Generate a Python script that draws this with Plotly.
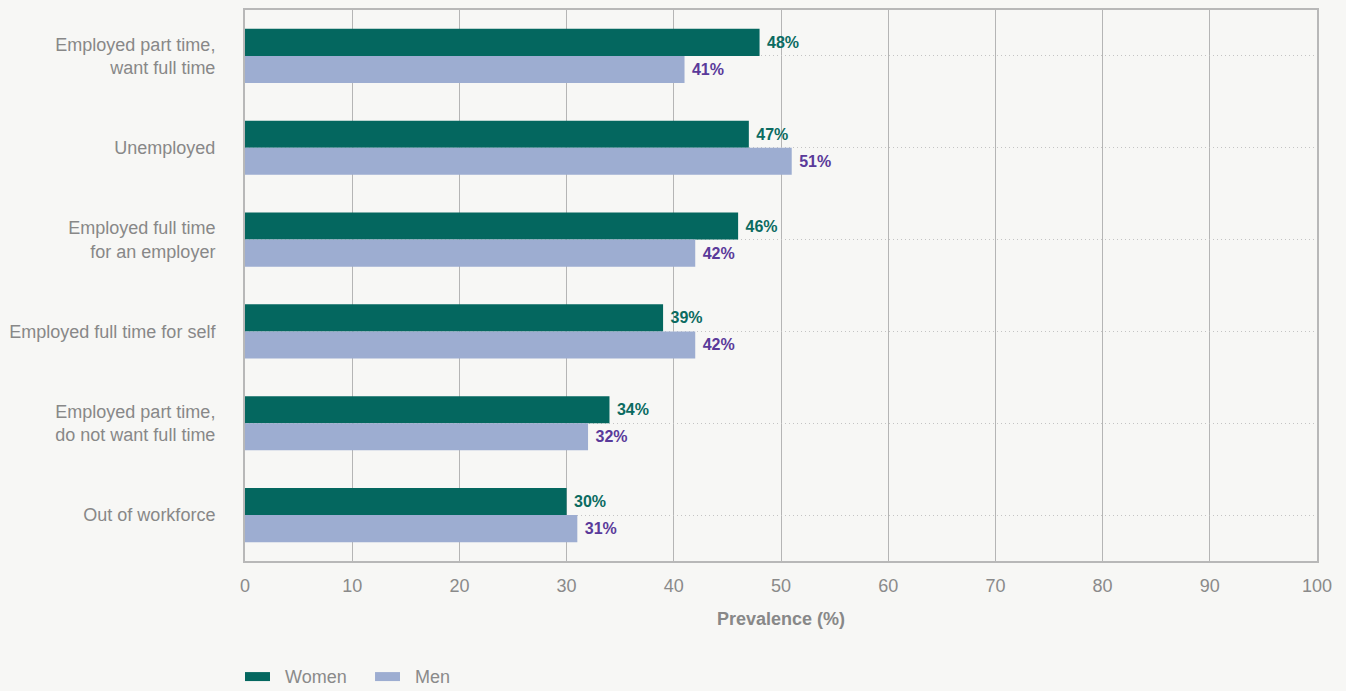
import plotly.graph_objects as go

categories = [
    "Employed part time,<br>want full time",
    "Unemployed",
    "Employed full time<br>for an employer",
    "Employed full time for self",
    "Employed part time,<br>do not want full time",
    "Out of workforce",
]
women = [48, 47, 46, 39, 34, 30]
men = [41, 51, 42, 42, 32, 31]
x_ticks = [0, 10, 20, 30, 40, 50, 60, 70, 80, 90, 100]
series_names = ["Women", "Men"]
series_colors = ["#04675f", "#9dadd1"]
label_colors = ["#0b6b61", "#5a3a9a"]

FONT = "Liberation Sans, Arial, sans-serif"
BG = "#f7f7f5"

fig = go.Figure()
for name, vals, col, lcol in zip(series_names, [women, men], series_colors, label_colors):
    fig.add_trace(go.Bar(
        y=categories, x=vals, orientation="h", name=name,
        marker=dict(color=col, line=dict(width=0)),
        text=[f"\u00a0{v}%" for v in vals], textposition="outside",
        textfont=dict(family=FONT, size=16, color=lcol, weight="bold"),
        cliponaxis=False, showlegend=False,
    ))

# legend drawn as small rectangles + text under the plot
legend_x = [0.0, 0.1213]
for i, (name, col) in enumerate(zip(series_names, series_colors)):
    x0 = legend_x[i]
    fig.add_shape(type="rect", xref="paper", yref="paper",
                  x0=x0, x1=x0 + 0.0233, y0=-0.2179, y1=-0.2016,
                  fillcolor=col, line=dict(width=0))
    fig.add_annotation(xref="paper", yref="paper", x=x0 + 0.0350, y=-0.2098,
                       xanchor="left", yanchor="middle", showarrow=False,
                       text=name, font=dict(family=FONT, size=18, color="#8a8a8a"))

fig.update_layout(
    width=1346, height=691,
    paper_bgcolor=BG, plot_bgcolor=BG,
    margin=dict(l=245, r=29, t=8, b=130),
    barmode="group", bargap=0.41, bargroupgap=0,
    font=dict(family=FONT, size=18, color="#888888"),
    showlegend=False,
    xaxis=dict(
        range=[0, 100], tickvals=x_ticks, showgrid=True, gridcolor="#b5b5b5", gridwidth=1,
        showline=True, linecolor="#b8b8b8", linewidth=2, mirror=True, zeroline=False,
        ticks="", tickfont=dict(size=18, color="#8a8a8a"), ticklabelstandoff=7,
        title=dict(text="<b>Prevalence (%)</b>", font=dict(size=18, color="#888888"), standoff=18),
    ),
    yaxis=dict(
        autorange="reversed", showgrid=True, gridcolor="#c4c4c4", griddash="1px,3px", gridwidth=1,
        showline=True, linecolor="#b8b8b8", linewidth=2, mirror=True, ticks="",
        tickfont=dict(size=18, color="#888888"), ticklabelstandoff=24,
    ),
)

fig.write_html("out.html", config={"displayModeBar": False})
with open("out.html", "r", encoding="utf-8") as f:
    html = f.read()
html = html.replace("<body>", '<body style="margin:0;padding:0;">', 1)
with open("out.html", "w", encoding="utf-8") as f:
    f.write(html)
